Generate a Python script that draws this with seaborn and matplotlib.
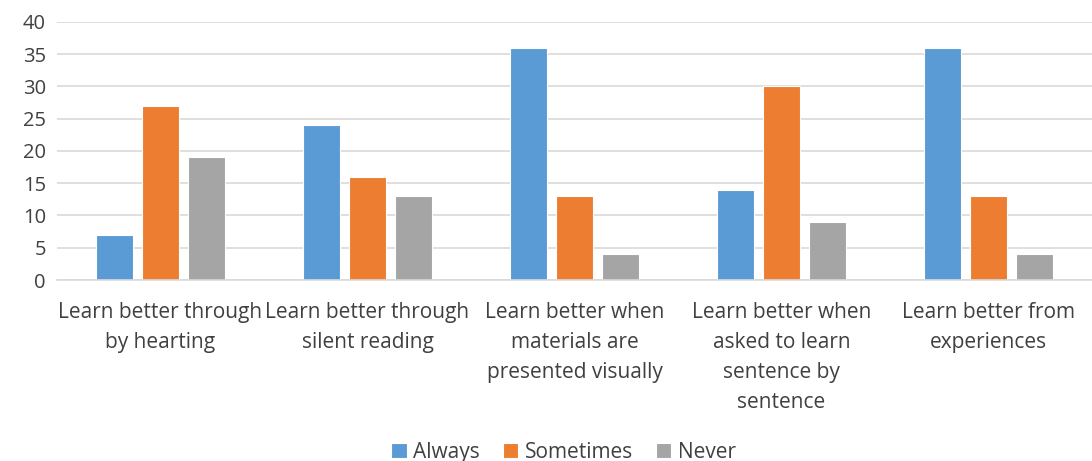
import matplotlib
matplotlib.use("Agg")
import matplotlib.pyplot as plt
import seaborn as sns
import pandas as pd

categories = [
    "Learn better through\nby hearting",
    "Learn better through\nsilent reading",
    "Learn better when\nmaterials are\npresented visually",
    "Learn better when\nasked to learn\nsentence by\nsentence",
    "Learn better from\nexperiences",
]
series_names = ["Always", "Sometimes", "Never"]
always = [7, 24, 36, 14, 36]
sometimes = [27, 16, 13, 30, 13]
never = [19, 13, 4, 9, 4]
y_ticks = [0, 5, 10, 15, 20, 25, 30, 35, 40]

colors = ["#5B9BD5", "#ED7D31", "#A5A5A5"]
text_color = "#404040"

rows = []
for name, vals in zip(series_names, [always, sometimes, never]):
    for cat, v in zip(categories, vals):
        rows.append({"category": cat, "series": name, "value": v})
df = pd.DataFrame(rows)

sns.set_theme(style="white")
plt.rcParams["font.family"] = ["Open Sans", "DejaVu Sans"]

fig = plt.figure(figsize=(10.92, 4.61), dpi=100)
ax = fig.add_axes([57 / 1092, 1 - 280 / 461, (1092 - 57) / 1092, (280 - 22) / 461])

sns.barplot(
    data=df, x="category", y="value", hue="series",
    hue_order=series_names, palette=colors,
    width=0.665, gap=0.2, ax=ax, legend=True,
    edgecolor="white", linewidth=0.8, saturation=1,
)

ax.set_ylim(0, 40)
ax.set_yticks(y_ticks)
ax.set_xlim(-0.5, len(categories) - 0.5)
ax.yaxis.grid(True, color="#D9D9D9", linewidth=1.2)
ax.set_axisbelow(True)
for s in ["top", "right", "left"]:
    ax.spines[s].set_visible(False)
ax.spines["bottom"].set_color("#D9D9D9")
ax.spines["bottom"].set_linewidth(1.2)
ax.set_xlabel("")
ax.set_ylabel("")
ax.tick_params(axis="y", length=0, labelsize=14.5, colors=text_color, pad=8)
ax.tick_params(axis="x", length=0, labelsize=15, colors=text_color, pad=16)
for lbl in ax.get_xticklabels():
    lbl.set_verticalalignment("top")
    lbl.set_linespacing(1.55)

handles, labels = ax.get_legend_handles_labels()
ax.legend_.remove()
fig.legend(
    handles, labels, loc="lower center", bbox_to_anchor=(0.516, -0.045),
    ncol=3, frameon=False, fontsize=15, handlelength=0.75, handleheight=0.75,
    handletextpad=0.3, columnspacing=1.1, labelcolor=text_color,
)

fig.savefig("out.png", dpi=100)
